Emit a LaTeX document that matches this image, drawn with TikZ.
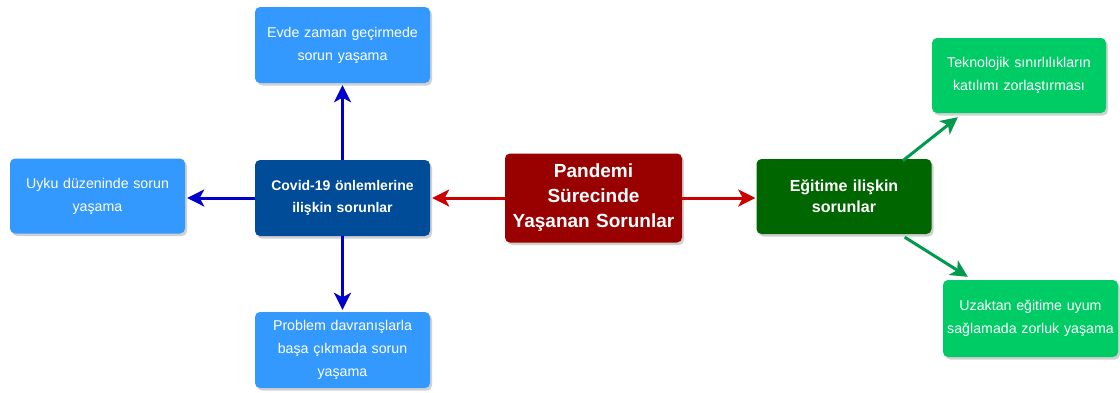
\documentclass[tikz,border=0pt]{standalone}
\usepackage{fontspec}
\setmainfont{Liberation Sans}
\usetikzlibrary{arrows.meta,shadows,calc}
\definecolor{lblue}{HTML}{3399FF}
\definecolor{dblue}{HTML}{004C99}
\definecolor{dred}{HTML}{990000}
\definecolor{dgreen}{HTML}{006600}
\definecolor{lgreen}{HTML}{00CC66}
\definecolor{ablue}{HTML}{0000CC}
\definecolor{ared}{HTML}{CC0000}
\definecolor{agreen}{HTML}{00994D}
\tikzset{
  box/.style={rounded corners=5pt, text=white, align=center, inner sep=0pt,
    drop shadow={shadow xshift=2pt, shadow yshift=-2.5pt, opacity=0.3, fill=black!60}},
  leaf/.style={box, fill=lblue, minimum width=175pt, minimum height=76pt, text width=168pt,
    font=\fontsize{14.2}{23}\selectfont},
  gleaf/.style={leaf, fill=lgreen},
  mid/.style={box, minimum width=175pt, minimum height=76pt, text width=168pt},
  arr/.style={line width=3pt, -{Stealth[length=17pt,width=17pt,inset=4.5pt]}},
}
\begin{document}
\begin{tikzpicture}[x=1pt,y=-1pt]
\useasboundingbox (0,0) rectangle (1120,392);
\node[leaf] (top) at (342.5,45) {Evde zaman geçirmede\\sorun yaşama};
\node[leaf, minimum height=75pt] (left) at (97.5,196) {Uyku düzeninde sorun\\yaşama};
\node[mid, fill=dblue, font=\bfseries\fontsize{14}{22}\selectfont] (covid) at (342.5,198) {Covid-19 önlemlerine\\ilişkin sorunlar};
\node[box, fill=dred, minimum width=177pt, minimum height=89pt, text width=172pt,
  font=\bfseries\fontsize{19}{25}\selectfont] (center) at (593.5,198) {Pandemi\\Sürecinde\\Yaşanan Sorunlar};
\node[mid, fill=dgreen, minimum height=75pt, font=\bfseries\fontsize{16}{21}\selectfont] (egit) at (844,196.5) {Eğitime ilişkin\\sorunlar};
\node[gleaf, minimum width=174pt, minimum height=75pt] (tekno) at (1019,75.5) {Teknolojik sınırlılıkların\\katılımı zorlaştırması};
\node[leaf] (bottom) at (342.5,350) {Problem davranışlarla\\başa çıkmada sorun\\yaşama};
\node[gleaf, minimum height=77pt] (uzak) at (1030.5,318.5) {Uzaktan eğitime uyum\\sağlamada zorluk yaşama};
\draw[arr, ablue] (covid.north) -- ($(covid.north |- top.south)+(0,2)$);
\draw[arr, ablue] (covid.west) -- ($(covid.west -| left.east)+(2,0)$);
\draw[arr, ablue] (covid.south) -- ($(covid.south |- bottom.north)+(0,-2)$);
\draw[arr, ared] (center.west) -- ($(center.west -| covid.east)+(2,0)$);
\draw[arr, ared] (center.east) -- ($(center.east -| egit.west)+(-1,0)$);
\coordinate (g1s) at ($(egit.north east)+(-29,2)$);
\coordinate (g1e) at ($(tekno.south west)+(26,4)$);
\coordinate (g2s) at ($(egit.south east)+(-27,3)$);
\coordinate (g2e) at ($(uzak.north west)+(25,-3)$);
\draw[arr, agreen] (g1s) -- (g1e);
\draw[arr, agreen] (g2s) -- (g2e);
\end{tikzpicture}
\end{document}
